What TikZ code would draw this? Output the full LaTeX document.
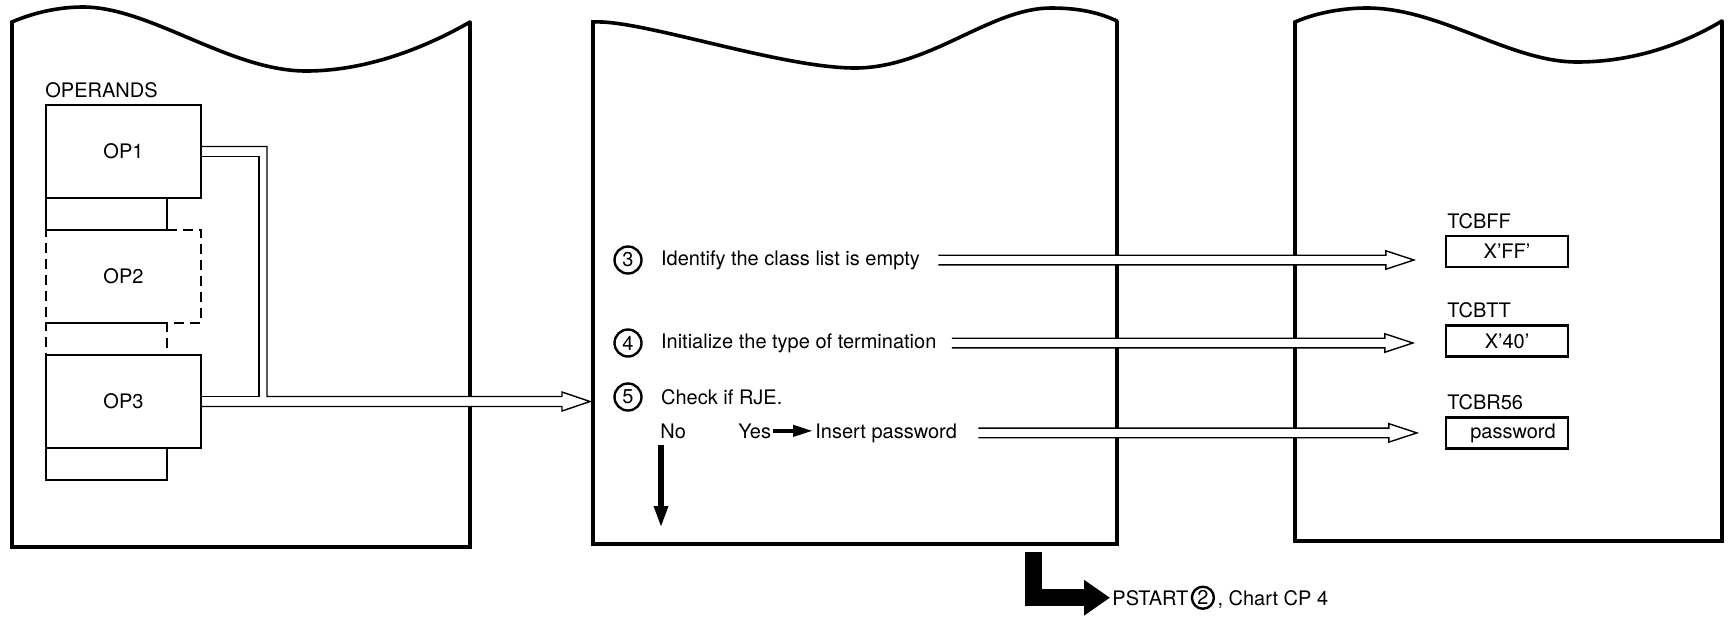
\documentclass[tikz,border=0pt]{standalone}
\usepackage{fontspec}
\setmainfont{TeX Gyre Heros}
\usetikzlibrary{positioning,calc,arrows.meta}

\tikzset{
  sheet/.style={line width=1.8pt, line cap=round},
  opbox/.style={draw, line width=1.1pt, minimum width=77.5pt, minimum height=46.5pt, inner sep=0pt, outer sep=0pt},
  optab/.style={draw, line width=1.1pt, minimum width=60.5pt, minimum height=16pt, inner sep=0pt, outer sep=0pt},
  dashbox/.style={dash pattern=on 5pt off 3pt},
  stepno/.style={draw, circle, line width=1.2pt, minimum size=13.5pt, inner sep=0pt},
  steptext/.style={inner sep=1pt},
  regbox/.style={draw, line width=1.1pt, minimum width=61pt, minimum height=15.5pt, inner sep=0pt},
  pipe/.style={draw, fill=white, line width=0.7pt},
  blk/.style={line width=2pt, -{Triangle[length=10pt,width=5.5pt]}},
  bigarrow/.style={line width=8.5pt, -{Triangle[length=13pt,width=17pt]}},
}

% hollow double-line arrow, #1 start, #2 tip (same height)
\newcommand{\pipeto}[2]{%
  \draw[pipe] let \p1=(#1), \p2=(#2) in
    (\x1,\y1+2.4pt) -- (\x2-14pt,\y1+2.4pt) -- (\x2-14pt,\y1+4.6pt)
    -- (\x2,\y1) -- (\x2-14pt,\y1-4.6pt) -- (\x2-14pt,\y1-2.4pt) -- (\x1,\y1-2.4pt);}

\begin{document}
\begin{tikzpicture}[x=0.5pt, y=-0.5pt, font=\fontsize{10}{12}\selectfont]
  \useasboundingbox (0,0) rectangle (1729,617);

  % the three sheets
  \draw[sheet] (470,22) -- (470,547) -- (12,547) -- (12,22)
    .. controls (35,12) and (60,7) .. (83,7)
    .. controls (150,7) and (230,71) .. (306,71)
    .. controls (370,71) and (430,45) .. (470,22);
  \draw[sheet] (1117,21) -- (1117,544) -- (593,544) -- (593,22)
    .. controls (640,19) and (780,68) .. (855,68)
    .. controls (930,68) and (990,8) .. (1051,8)
    .. controls (1080,8) and (1100,13) .. (1117,21);
  \draw[sheet] (1722,21) -- (1722,541) -- (1295,541) -- (1295,22)
    .. controls (1318,12) and (1345,8) .. (1367,8)
    .. controls (1440,8) and (1510,62) .. (1577,62)
    .. controls (1640,62) and (1690,40) .. (1722,21);

  % operand list
  \node (operands) [anchor=base west, inner sep=0pt] at (45,97) {OPERANDS};
  \node (op1) [opbox, anchor=north west] at (46,105) {OP1};
  \node (tab1) [optab, anchor=north west] at (op1.south west) {};
  \node (op2) [opbox, dashbox, anchor=north west] at (tab1.south west) {OP2};
  \node (tab2) [optab, dashbox, anchor=north west] at (op2.south west) {};
  \node (op3) [opbox, anchor=north west] at (tab2.south west) {OP3};
  \node (tab3) [optab, anchor=north west] at (op3.south west) {};

  \coordinate (bend) at (267,0);
  \coordinate (bendin) at (259,0);
  \coordinate (into) at (590,0);
  \draw[pipe] let \p1=([xshift=0.55pt]op1.east), \p2=([xshift=0.55pt]op3.east), \p3=(bend), \p4=(into) in
    (\x1,\y1+2.5pt) -| (\x3,\y2+2.5pt) -- (\x4-14pt,\y2+2.5pt) -- (\x4-14pt,\y2+4.75pt)
    -- (\x4,\y2) -- (\x4-14pt,\y2-4.75pt) -- (\x4-14pt,\y2-2.5pt) -- (\x2,\y2-2.5pt);
  \draw[pipe, fill=none] let \p1=([xshift=0.55pt]op1.east), \p2=([xshift=0.55pt]op3.east), \p3=(bendin) in
    (\x1,\y1-2.5pt) -| (\x3,\y2+2.5pt) -- (\x2,\y2+2.5pt);

  % steps
  \node (s3) [stepno] at (628,260) {3};
  \node (t3) [steptext, right=8pt of s3] {Identify the class list is empty};
  \node (s4) [stepno] at (628,343) {4};
  \node (t4) [steptext, right=8pt of s4] {Initialize the type of termination};
  \node (s5) [stepno] at (628,397) {5};
  \node (t5) [steptext, right=8pt of s5] {Check if RJE.};
  \node (no) [steptext, anchor=base west] at (658,438) {No};
  \node (yes) [steptext, anchor=base west] at (736,438) {Yes};
  \node (ins) [steptext, anchor=base west] at (813,438) {Insert password};
  \draw[blk] (yes) -- (yes -| ins.west);
  \coordinate (noend) at (661,528);
  \draw[blk, line width=2.8pt, -{Triangle[length=11pt,width=6.5pt]}] ([yshift=-2pt]noend |- no.south) -- (noend);

  % fields set
  \node (fff) [regbox] at (1507,251.5) {X'FF'};
  \node (fffname) [steptext, above right=2pt and 0pt of fff.north west] {TCBFF};
  \node (ttt) [regbox] at (1507,341) {X'40'};
  \node (tttname) [steptext, above right=2pt and 0pt of ttt.north west] {TCBTT};
  \node (pwd) [regbox] at (1507,433) {\hspace{6pt}password};
  \node (pwdname) [steptext, above right=2pt and 0pt of pwd.north west] {TCBR56};

  \coordinate[right=8pt of t3] (a3);
  \coordinate[left=15.5pt of fff] (e3);
  \pipeto{a3}{a3 -| e3}
  \coordinate[right=6.5pt of t4] (a4);
  \coordinate[left=16pt of ttt] (e4);
  \pipeto{a4}{a4 -| e4}
  \coordinate[right=9.5pt of ins] (a5);
  \coordinate[left=14pt of pwd] (e5);
  \pipeto{a5}{a5 -| e5}

  % exit
  \node (pstart) [steptext, anchor=base west] at (1110,605) {PSTART};
  \node (c2) [stepno, minimum size=11pt, right=0pt of pstart] {2};
  \node (chart) [steptext, anchor=base west] at (c2.east |- pstart.base) {, Chart CP 4};
  \coordinate (drop) at (1033.5,552);
  \draw[bigarrow] (drop) |- (pstart);
\end{tikzpicture}
\end{document}
